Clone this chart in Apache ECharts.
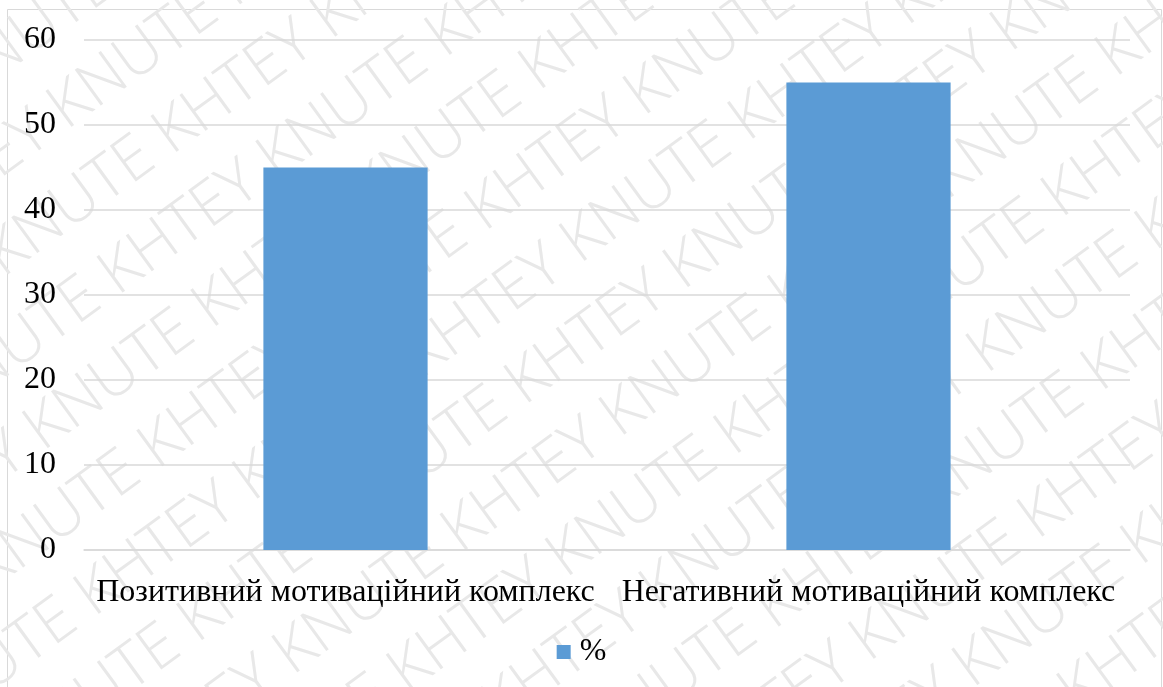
<!DOCTYPE html>
<html>
<head>
<meta charset="utf-8">
<script src="https://cdn.jsdelivr.net/npm/echarts@6/dist/echarts.min.js"></script>
<style>
html,body{margin:0;padding:0;background:#fff;}
#chart{width:1163px;height:687px;}
</style>
</head>
<body>
<div id="chart"></div>
<script>
const categories = ['Позитивний мотиваційний комплекс', 'Негативний мотиваційний комплекс'];
const seriesName = '%';
const values = [45, 55];
const yTicks = { min: 0, max: 60, interval: 10 };
const watermarkWords = ['KNUTE', 'KHTEY'];

const chart = echarts.init(document.getElementById('chart'), null, { renderer: 'canvas' });
const serif = "'Liberation Serif', 'Times New Roman', serif";

// watermark rows
const wmChildren = [];
for (let k = -12; k <= 12; k++) {
  let s = '';
  for (let i = 0; i < 12; i++) s += watermarkWords[(i + k + 100) % 2] + ' ';
  wmChildren.push({
    type: 'text',
    x: -1100 + ((k % 3 + 3) % 3) * 70,
    y: k * 82,
    style: {
      text: s,
      fill: '#e8e8e8',
      font: "300 62px 'Open Sans', 'DejaVu Sans', sans-serif",
      textVerticalAlign: 'middle'
    }
  });
}

chart.setOption({
  animation: false,
  backgroundColor: '#ffffff',
  graphic: [
    {
      type: 'group',
      x: 581, y: 343,
      rotation: 36 * Math.PI / 180,
      z: -10,
      silent: true,
      children: wmChildren
    },
    {
      type: 'rect',
      z: -5,
      silent: true,
      shape: { x: 7.5, y: 9.5, width: 1154, height: 700 },
      style: { fill: null, stroke: '#d9d9d9', lineWidth: 1 }
    }
  ],
  grid: { left: 84, right: 33, top: 40, bottom: 137, containLabel: false },
  legend: {
    data: [seriesName],
    bottom: 14,
    left: 'center',
    itemWidth: 14,
    itemHeight: 14,
    itemGap: 10,
    icon: 'rect',
    textStyle: { fontFamily: serif, fontSize: 32, color: '#000', padding: [0, 0, 0, 4] }
  },
  xAxis: {
    type: 'category',
    data: categories,
    axisLine: { show: true, lineStyle: { color: '#d9d9d9', width: 1.5 } },
    axisTick: { show: false },
    axisLabel: { fontFamily: serif, fontSize: 32, color: '#000', margin: 27, interval: 0 }
  },
  yAxis: {
    type: 'value',
    min: yTicks.min, max: yTicks.max, interval: yTicks.interval,
    axisLine: { show: false },
    axisTick: { show: false },
    splitLine: { lineStyle: { color: '#d9d9d9', width: 1.5 } },
    axisLabel: { fontFamily: serif, fontSize: 32, color: '#000', margin: 28 }
  },
  series: [{
    name: seriesName,
    type: 'bar',
    data: values,
    barWidth: '31.4%',
    itemStyle: { color: '#5b9bd5' }
  }]
});
</script>
</body>
</html>
